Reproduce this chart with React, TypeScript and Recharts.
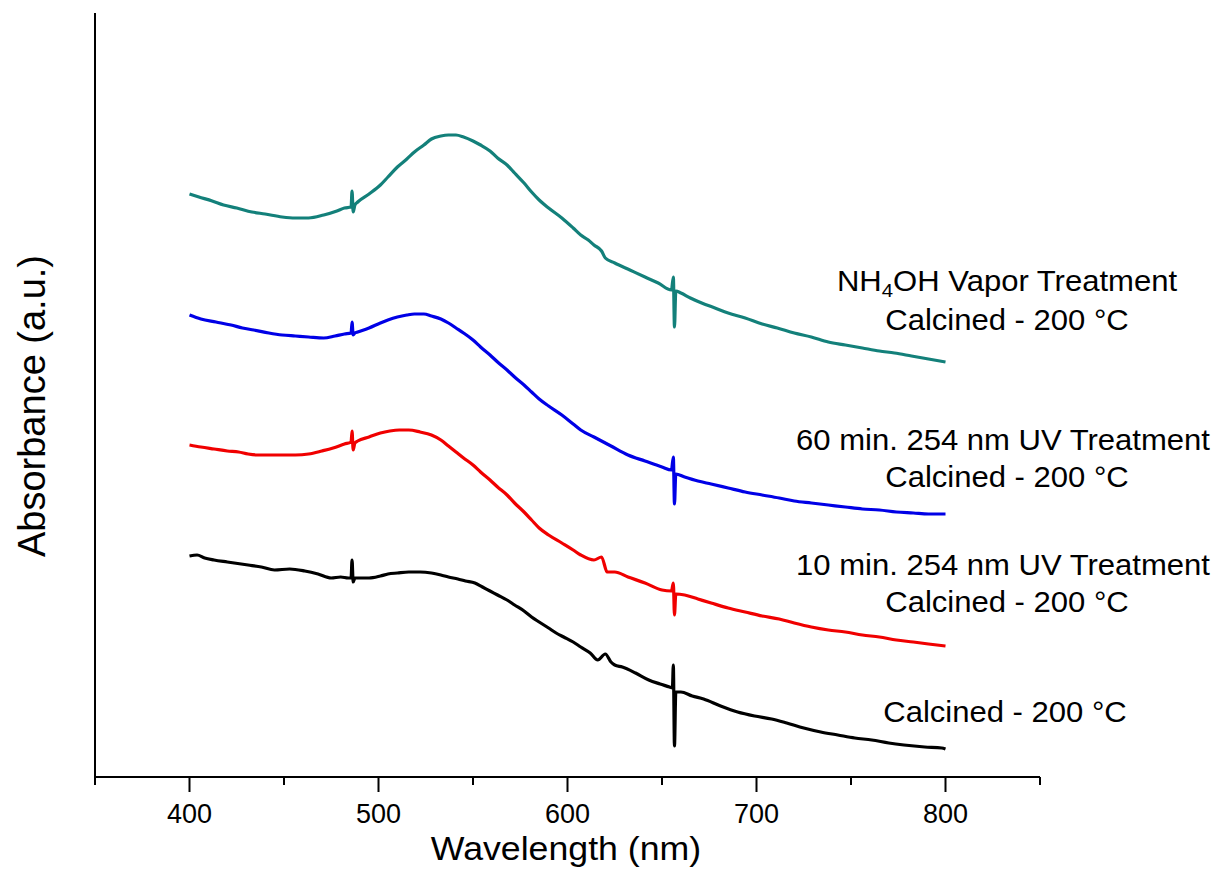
import React from "react";
import { LineChart, Line, XAxis, YAxis } from "recharts";

// [wavelength nm, absorbance a.u. (offset traces)]
const calcined: [number, number][] = [
  [400, 2.21], [404, 2.22], [408, 2.19], [413, 2.17], [420, 2.15], [431, 2.12], [438, 2.1],
  [445, 2.07], [453, 2.08], [461, 2.06], [468, 2.03], [475, 1.99], [480, 2.0], [484, 1.99],
  [485.5, 1.99], [486, 2.17], [486.6, 1.95], [487.5, 1.99], [490, 1.99], [495, 1.99], [501, 2.01],
  [505, 2.03], [510, 2.04], [516, 2.05], [522, 2.05], [528, 2.04], [533, 2.02], [537, 2.0],
  [542, 1.98], [546, 1.96], [551, 1.94], [555, 1.9], [559, 1.86], [563, 1.82], [568, 1.77],
  [572, 1.72], [577, 1.66], [581, 1.6], [585, 1.55], [590, 1.49], [594, 1.44], [598, 1.4],
  [603, 1.35], [607, 1.3], [612, 1.24], [616, 1.17], [620, 1.23], [623, 1.15], [625, 1.12],
  [629, 1.1], [636, 1.04], [643, 0.97], [649, 0.93], [654, 0.9], [655.5, 0.89], [656, 1.12],
  [656.6, 0.31], [657.3, 0.85], [660, 0.85], [666, 0.81], [672, 0.78], [681, 0.71], [690, 0.65],
  [699, 0.61], [708, 0.58], [716, 0.54], [725, 0.49], [734, 0.45], [743, 0.42], [752, 0.39],
  [761, 0.37], [770, 0.34], [778, 0.32], [789, 0.3], [798, 0.29], [800, 0.28],
];

const uv10: [number, number][] = [
  [400, 3.32], [406, 3.3], [413, 3.28], [420, 3.26], [426, 3.25], [431, 3.23], [436, 3.22],
  [442, 3.22], [449, 3.22], [456, 3.22], [463, 3.23], [470, 3.26], [476, 3.29], [482, 3.33],
  [485.5, 3.35], [486, 3.46], [486.6, 3.27], [487.5, 3.34], [489, 3.36], [495, 3.4], [501, 3.44],
  [506, 3.46], [511, 3.47], [516, 3.47], [522, 3.45], [528, 3.42], [533, 3.37], [537, 3.31],
  [541, 3.25], [545, 3.19], [550, 3.12], [554, 3.05], [559, 2.97], [563, 2.9], [568, 2.82],
  [572, 2.74], [577, 2.65], [581, 2.57], [585, 2.49], [590, 2.42], [597, 2.34], [603, 2.27],
  [607, 2.22], [614, 2.17], [618, 2.2], [621, 2.05], [625, 2.05], [632, 2.0], [641, 1.94],
  [650, 1.87], [655, 1.86], [656, 1.94], [656.6, 1.62], [657.3, 1.83], [662, 1.82], [669, 1.78],
  [676, 1.74], [685, 1.69], [694, 1.65], [703, 1.61], [712, 1.58], [720, 1.54], [729, 1.5],
  [738, 1.47], [747, 1.45], [756, 1.42], [765, 1.4], [774, 1.37], [783, 1.35], [791, 1.33],
  [800, 1.31],
];

const uv60: [number, number][] = [
  [400, 4.62], [406, 4.58], [414, 4.55], [422, 4.52], [428, 4.49], [434, 4.47], [442, 4.44],
  [449, 4.42], [456, 4.41], [463, 4.4], [471, 4.39], [477, 4.41], [482, 4.43], [485.5, 4.44],
  [486, 4.55], [486.6, 4.42], [487.5, 4.44], [489, 4.45], [495, 4.49], [501, 4.54], [505, 4.57],
  [510, 4.6], [515, 4.62], [519, 4.63], [524, 4.63], [528, 4.61], [533, 4.58], [537, 4.54],
  [541, 4.49], [545, 4.44], [550, 4.37], [554, 4.3], [559, 4.22], [563, 4.15], [568, 4.07],
  [572, 4.0], [577, 3.92], [581, 3.85], [585, 3.78], [590, 3.71], [597, 3.62], [603, 3.53],
  [607, 3.47], [614, 3.4], [623, 3.31], [632, 3.22], [641, 3.16], [650, 3.1], [655, 3.07],
  [656, 3.2], [656.6, 2.73], [657.3, 3.03], [662, 3.0], [669, 2.96], [676, 2.93], [685, 2.89],
  [694, 2.85], [703, 2.82], [712, 2.79], [720, 2.76], [729, 2.74], [738, 2.72], [747, 2.7],
  [756, 2.68], [765, 2.67], [774, 2.65], [783, 2.64], [791, 2.63], [800, 2.63],
];

const nh4oh: [number, number][] = [
  [400, 5.83], [405, 5.8], [412, 5.76], [418, 5.72], [425, 5.69], [433, 5.65], [440, 5.63],
  [449, 5.6], [456, 5.59], [463, 5.59], [471, 5.62], [478, 5.66], [482, 5.69], [485.5, 5.7],
  [486, 5.86], [486.6, 5.65], [487.5, 5.72], [489, 5.75], [495, 5.83], [501, 5.92], [505, 6.0],
  [510, 6.1], [515, 6.18], [519, 6.25], [524, 6.32], [528, 6.38], [533, 6.41], [537, 6.42],
  [541, 6.42], [545, 6.4], [550, 6.36], [554, 6.32], [559, 6.26], [563, 6.19], [568, 6.12],
  [572, 6.04], [577, 5.94], [581, 5.85], [585, 5.77], [590, 5.69], [597, 5.59], [603, 5.49],
  [607, 5.42], [611, 5.37], [614, 5.32], [618, 5.26], [620, 5.19], [625, 5.14], [633, 5.07],
  [641, 5.0], [648, 4.94], [655, 4.87], [656, 5.0], [656.6, 4.5], [657.3, 4.86], [660, 4.84],
  [665, 4.79], [671, 4.74], [678, 4.69], [685, 4.64], [694, 4.59], [703, 4.53], [711, 4.49],
  [720, 4.44], [729, 4.4], [738, 4.35], [747, 4.32], [756, 4.29], [765, 4.26], [773, 4.24],
  [782, 4.21], [791, 4.18], [800, 4.15],
];

const xTicks = [350, 400, 450, 500, 550, 600, 650, 700, 750, 800, 850];

const series = [
  { name: "Calcined - 200 °C", data: calcined, color: "#000000" },
  { name: "10 min. 254 nm UV Treatment", data: uv10, color: "#f00000" },
  { name: "60 min. 254 nm UV Treatment", data: uv60, color: "#0000e6" },
  { name: "NH4OH Vapor Treatment", data: nh4oh, color: "#13807a" },
];

const font = "'Liberation Sans', Arial, sans-serif";

function Tick(props: any) {
  const { x, y, payload } = props;
  const major = payload.value % 100 === 0;
  return (
    <g>
      <line x1={x} x2={x} y1={y} y2={y + (major ? 15 : 8)} stroke="#000" strokeWidth={2} />
      {major && (
        <text x={x} y={y + 46} textAnchor="middle" fontSize={27} fontFamily={font} fill="#000">
          {payload.value}
        </text>
      )}
    </g>
  );
}

const note = (x: number, y: number, size = 29, stretch = 1.07): React.CSSProperties => ({
  position: "absolute",
  left: x,
  top: y,
  transform: `translate(-50%, -50%) scaleX(${stretch})`,
  whiteSpace: "nowrap",
  fontSize: size,
  fontFamily: font,
  color: "#000",
  lineHeight: 1,
});

export default function App() {
  return (
    <div style={{ position: "absolute", left: 0, top: 0, width: 1222, height: 886, background: "#fff" }}>
      <LineChart width={1222} height={886} margin={{ top: 13, right: 182, bottom: 49, left: 0 }}>
        <XAxis
          type="number"
          dataKey="wl"
          domain={[350, 850]}
          ticks={xTicks}
          interval={0}
          tickSize={0}
          tickMargin={0}
          tickLine={false}
          tick={<Tick />}
          height={60}
          axisLine={{ stroke: "#000", strokeWidth: 2 }}
          allowDuplicatedCategory={false}
        />
        <YAxis
          type="number"
          dataKey="a"
          domain={[0, 7.64]}
          width={95}
          tick={false}
          tickLine={false}
          axisLine={{ stroke: "#000", strokeWidth: 2 }}
        />
        {series.map((s) => (
          <Line
            key={s.name}
            name={s.name}
            data={s.data.map(([wl, a]) => ({ wl, a }))}
            dataKey="a"
            type="monotone"
            stroke={s.color}
            strokeWidth={3.2}
            dot={false}
            isAnimationActive={false}
          />
        ))}
      </LineChart>

      <div style={note(1007, 283)}>
        NH<sub style={{ fontSize: 19, verticalAlign: -6 }}>4</sub>OH Vapor Treatment
      </div>
      <div style={note(1007, 320)}>Calcined - 200 °C</div>
      <div style={note(1003, 440)}>60 min. 254 nm UV Treatment</div>
      <div style={note(1007, 477)}>Calcined - 200 °C</div>
      <div style={note(1003, 565)}>10 min. 254 nm UV Treatment</div>
      <div style={note(1007, 602)}>Calcined - 200 °C</div>
      <div style={note(1005, 712)}>Calcined - 200 °C</div>

      <div style={note(566, 848, 34, 1.05)}>Wavelength (nm)</div>
      <div style={{ ...note(32, 406, 38, 1), transform: "translate(-50%, -50%) rotate(-90deg)" }}>
        Absorbance (a.u.)
      </div>
    </div>
  );
}
